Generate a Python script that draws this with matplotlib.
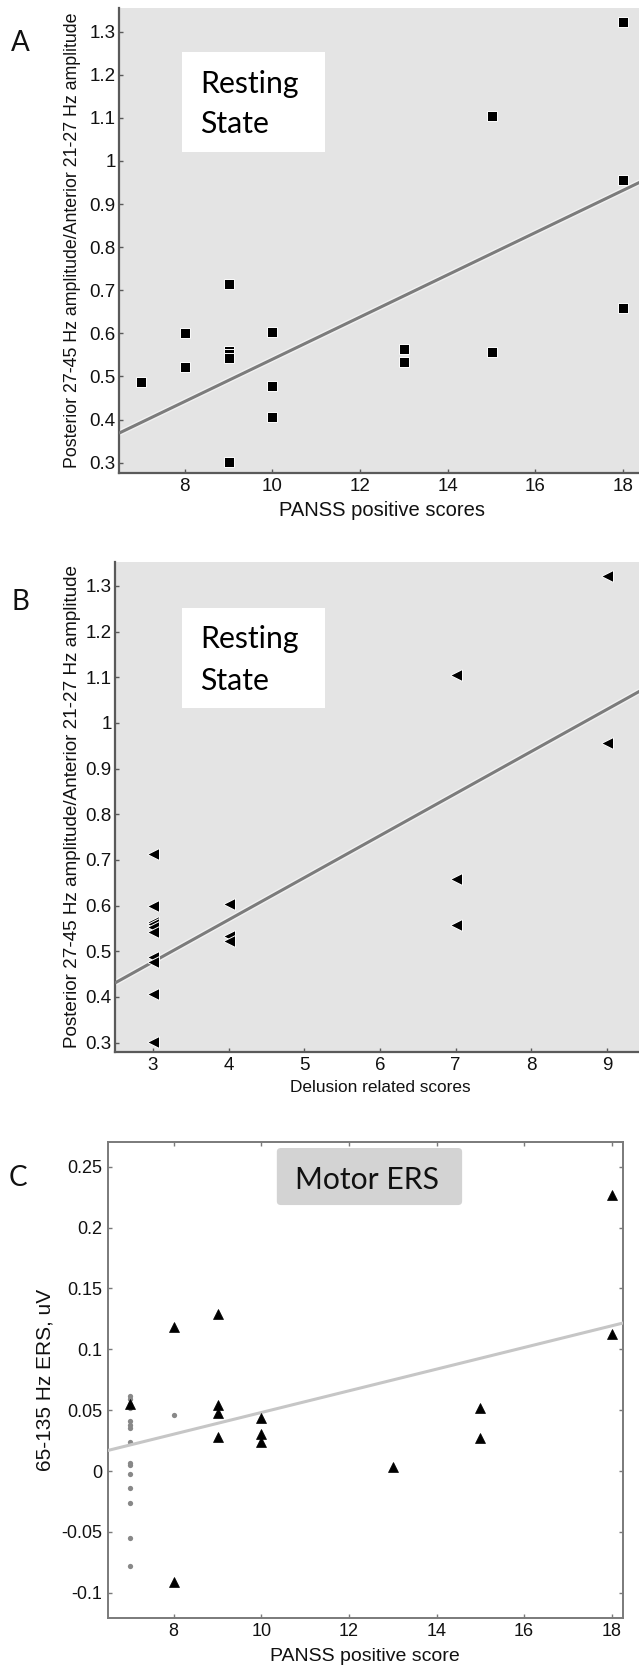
import matplotlib
matplotlib.use('Agg')
import matplotlib.pyplot as plt
from matplotlib.patches import Rectangle, FancyBboxPatch
import numpy as np

plt.rcParams['font.family'] = ['Liberation Sans', 'DejaVu Sans']

# ---------------- data ----------------
# Panel A: PANSS positive scores vs posterior/anterior amplitude ratio
a_x = [7, 8, 8, 9, 9, 9, 9, 9, 10, 10, 10, 13, 13, 15, 15, 18, 18, 18]
a_y = [0.487, 0.600, 0.522, 0.714, 0.560, 0.552, 0.543, 0.302, 0.604,
       0.477, 0.407, 0.563, 0.533, 1.104, 0.557, 1.322, 0.955, 0.659]
a_fit = [0.049, 0.050]          # slope, intercept
a_xticks = [8, 10, 12, 14, 16, 18]
a_yticks = [0.3, 0.4, 0.5, 0.6, 0.7, 0.8, 0.9, 1.0, 1.1, 1.2, 1.3]

# Panel B: delusion related scores
b_x = [3, 3, 3, 3, 3, 3, 3, 3, 3, 3, 4, 4, 4, 7, 7, 7, 9, 9]
b_y = [0.714, 0.600, 0.563, 0.560, 0.552, 0.543, 0.487, 0.477, 0.407,
       0.302, 0.604, 0.533, 0.522, 1.104, 0.659, 0.557, 1.322, 0.955]
b_fit = [0.0922, 0.200]
b_xticks = [3, 4, 5, 6, 7, 8, 9]
b_yticks = a_yticks

# Panel C: motor ERS
c_x = [7, 8, 8, 9, 9, 9, 9, 10, 10, 10, 13, 15, 15, 18, 18]
c_y = [0.055, 0.118, -0.091, 0.129, 0.054, 0.048, 0.028, 0.0435, 0.0305,
       0.024, 0.0035, 0.052, 0.027, 0.2265, 0.1126]
c_ctrl_x = [7, 7, 7, 7, 7, 7, 7, 7, 7, 7, 7, 7, 7, 7, 7, 8]
c_ctrl_y = [0.062, 0.059, 0.055, 0.052, 0.041, 0.038, 0.035, 0.024, 0.007,
            0.005, -0.002, -0.014, -0.026, -0.055, -0.078, 0.046]
c_fit = [0.0089, -0.0409]
c_xticks = [8, 10, 12, 14, 16, 18]
c_yticks = [-0.1, -0.05, 0, 0.05, 0.1, 0.15, 0.2, 0.25]
c_yticklabels = ['-0.1', '-0.05', '0', '0.05', '0.1', '0.15', '0.2', '0.25']

W, H = 639, 1667
fig = plt.figure(figsize=(W / 100, H / 100), dpi=100)


def px_axes(left, top, width, height):
    return fig.add_axes([left / W, 1 - (top + height) / H, width / W, height / H])


def fmt_tick(v):
    s = ('%.1f' % v)
    return '1' if s == '1.0' else s


SPINE = '#5a5a5a'
BG = '#e4e4e4'


def resting_panel(ax, xs, ys, fit, marker, ms, xlim, ylim, xticks, yticks,
                  xlabel, xlabel_size, ylabel, ylabel_size, label_xy,
                  box, text_x, baselines):
    ax.set_facecolor(BG)
    ax.set_xlim(*xlim)
    ax.set_ylim(*ylim)
    for s in ['top', 'right']:
        ax.spines[s].set_visible(False)
    for s in ['left', 'bottom']:
        ax.spines[s].set_color(SPINE)
        ax.spines[s].set_linewidth(1.6)
    xx = np.array(xlim)
    ax.plot(xx, fit[0] * xx + fit[1], color='#f2f2f2', lw=4.2,
            solid_capstyle='butt', zorder=2)
    ax.plot(xx, fit[0] * xx + fit[1], color='#7c7c7c', lw=2.2,
            solid_capstyle='butt', zorder=3)
    ax.plot(xs, ys, linestyle='none', marker=marker, ms=ms, mfc='black',
            mec='white', mew=0.7, zorder=4)
    ax.set_xticks(xticks)
    ax.set_yticks(yticks)
    ax.set_yticklabels([fmt_tick(v) for v in yticks])
    ax.tick_params(direction='in', length=3, width=1, color=SPINE,
                   labelsize=13.5, pad=2.5, labelcolor='#111111')
    ax.tick_params(axis='x', pad=4)
    ax.set_xlabel(xlabel, fontsize=xlabel_size, color='#111111')
    ax.xaxis.set_label_coords(0.5, label_xy[1])
    ax.xaxis.label.set_va('center')
    ax.set_ylabel(ylabel, fontsize=ylabel_size, color='#111111')
    ax.yaxis.set_label_coords(label_xy[0], 0.5)
    ax.yaxis.label.set_va('center')
    ax.add_patch(Rectangle((box[0], box[1]), box[2] - box[0], box[3] - box[1],
                           transform=ax.transAxes, facecolor='white',
                           edgecolor='none', zorder=5))
    ax.text(text_x, baselines[0], 'Resting', transform=ax.transAxes,
            fontsize=21.8, family='Lato', va='baseline', ha='left', zorder=6)
    ax.text(text_x, baselines[1], 'State', transform=ax.transAxes,
            fontsize=21.8, family='Lato', va='baseline', ha='left', zorder=6)


ylab = 'Posterior 27-45 Hz amplitude/Anterior 21-27 Hz amplitude'

# ---------------- Panel A ----------------
axA = px_axes(119, 8, 526, 464.6)
resting_panel(axA, a_x, a_y, a_fit, 's', 6.6, (6.5, 18.5), (0.277, 1.355),
              a_xticks, a_yticks, 'PANSS positive scores', 14.5, ylab, 12.8,
              (-0.0875, -0.0805), (0.1198, 0.690, 0.3916, 0.9053), 0.154,
              (0.817, 0.731))

# ---------------- Panel B ----------------
axB = px_axes(115, 561.7, 530, 490)
resting_panel(axB, b_x, b_y, b_fit, '<', 8.5, (2.5, 9.5), (0.28, 1.353),
              b_xticks, b_yticks, 'Delusion related scores', 12.4, ylab, 13.6,
              (-0.081, -0.074), (0.1264, 0.7014, 0.396, 0.9055), 0.1604,
              (0.823, 0.738))

# ---------------- Panel C ----------------
axC = px_axes(108, 1142.3, 514.7, 475.5)
axC.set_xlim(6.5, 18.25)
axC.set_ylim(-0.1205, 0.27)
for s in axC.spines.values():
    s.set_color('#7a7a7a')
    s.set_linewidth(1.4)
axC.plot(c_ctrl_x, c_ctrl_y, linestyle='none', marker='o', ms=3.8,
         mfc='#888888', mec='none', zorder=2)
xx = np.array(axC.get_xlim())
axC.plot(xx, c_fit[0] * xx + c_fit[1], color='#c6c6c6', lw=2.2, zorder=3)
axC.plot(c_x, c_y, linestyle='none', marker='^', ms=6.5, mfc='black',
         mec='black', mew=0.5, zorder=4)
axC.set_xticks(c_xticks)
axC.set_yticks(c_yticks)
axC.set_yticklabels(c_yticklabels)
axC.tick_params(direction='in', length=3, width=1, color='#7a7a7a',
                labelsize=13, pad=4, top=True, right=True, labelcolor='#111111')
axC.set_xlabel('PANSS positive score', fontsize=14, color='#111111')
axC.xaxis.set_label_coords(0.5, -0.0824)
axC.xaxis.label.set_va('center')
axC.set_ylabel('65-135 Hz ERS, uV', fontsize=15, color='#111111')
axC.yaxis.set_label_coords(-0.1224, 0.5)
axC.yaxis.label.set_va('center')
axC.add_patch(FancyBboxPatch((0.332, 0.872), 0.352, 0.112,
                             boxstyle='round,pad=0.004,rounding_size=0.008',
                             transform=axC.transAxes, facecolor='#d3d3d3',
                             edgecolor='none', zorder=5))
axC.text(0.503, 0.9217, 'Motor ERS', transform=axC.transAxes, fontsize=21.7,
         family='Lato', ha='center', va='center', zorder=6, color='#111111')

# ---------------- panel letters ----------------
for letter, (x, y) in zip(['A', 'B', 'C'], [(20, 43), (20, 602), (17.5, 1178)]):
    fig.text(x / W, 1 - y / H, letter, fontsize=20, family='Lato',
             ha='center', va='center', color='#111111')

fig.savefig('out.png', dpi=100)
